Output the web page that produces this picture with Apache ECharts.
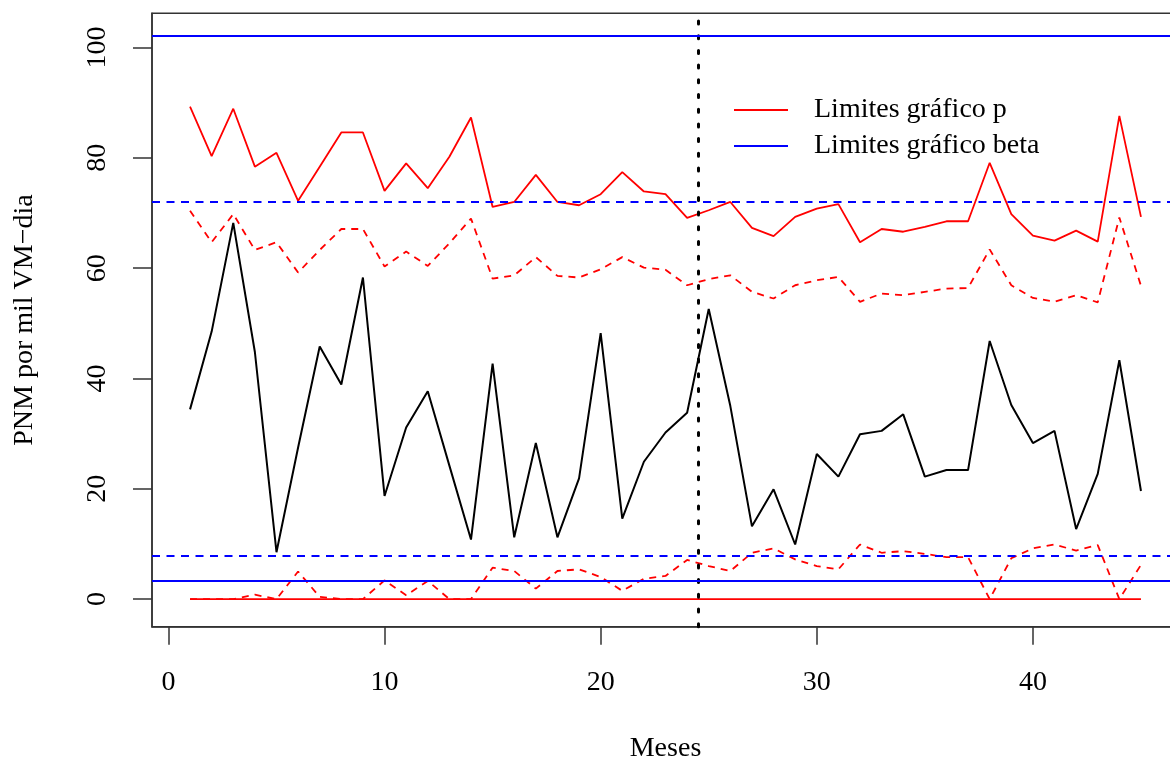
<!DOCTYPE html>
<html><head><meta charset="utf-8">
<script src="https://cdn.jsdelivr.net/npm/echarts@6/dist/echarts.min.js"></script>
<style>html,body{margin:0;padding:0;background:#fff}#c{width:1170px;height:760px}</style>
</head><body><div id="c"></div><script>
const months = [1,2,3,4,5,6,7,8,9,10,11,12,13,14,15,16,17,18,19,20,21,22,23,24,25,26,27,28,29,30,31,32,33,34,35,36,37,38,39,40,41,42,43,44,45];
const observed = [34.4,48.5,68.2,44.8,8.5,27.5,45.8,38.9,58.3,18.7,31.1,37.7,24.2,10.8,42.7,11.2,28.3,11.2,21.9,48.2,14.6,24.9,30.2,33.8,52.6,35.0,13.2,19.9,9.9,26.3,22.2,29.9,30.5,33.5,22.2,23.4,23.4,46.8,35.2,28.3,30.5,12.7,22.7,43.3,19.6];
const uclP = [89.3,80.3,88.9,78.4,80.9,72.2,78.4,84.6,84.6,74.0,79.0,74.5,80.2,87.3,71.1,72.0,76.9,72.0,71.4,73.4,77.4,73.9,73.4,69.1,70.5,72.0,67.3,65.8,69.3,70.8,71.6,64.7,67.1,66.6,67.5,68.5,68.5,79.1,69.8,65.9,65.0,66.8,64.8,87.6,69.3];
const uwlP = [70.4,64.7,69.8,63.3,64.7,59.2,63.3,67.1,67.1,60.3,63.0,60.4,64.5,69.0,58.1,58.7,62.0,58.6,58.3,59.8,62.0,60.1,59.7,56.9,58.0,58.7,55.7,54.5,56.9,57.8,58.4,53.9,55.4,55.1,55.7,56.3,56.4,63.4,56.9,54.6,53.9,55.1,53.8,69.2,56.8];
const lwlP = [0,0,0,0.8,0,5.0,0.4,0,0,3.4,0.7,3.3,0,0,5.7,5.1,1.9,5.1,5.4,4.0,1.5,3.7,4.2,7.1,6.0,5.1,8.4,9.2,7.2,6.0,5.4,9.9,8.4,8.7,8.2,7.6,7.6,0,7.4,9.2,9.9,8.8,9.8,0,6.2];
const lclP = [0,0,0,0,0,0,0,0,0,0,0,0,0,0,0,0,0,0,0,0,0,0,0,0,0,0,0,0,0,0,0,0,0,0,0,0,0,0,0,0,0,0,0,0,0];
const betaLimits = [102.1, 3.26];
const betaWarn = [72.0, 7.8];
const changeMonth = 24.5;
const xTicks = [0,10,20,30,40];
const yTicks = [0,20,40,60,80,100];
const legendNames = ['Limites gráfico p','Limites gráfico beta'];

const pairs = arr => months.map((m,i)=>[m,arr[i]]);
const FONT = 'Liberation Serif';
const RED = '#ff0000', BLUE = '#0000ff';

const chart = echarts.init(document.getElementById('c'), null, {renderer:'canvas'});
const lineSeries = (name, arr, color, type, z, w) => ({
  name, type:'line', data:pairs(arr), symbol:'none', z: z||2,
  itemStyle:{color}, lineStyle:{color, width:w||1.8, type: type||'solid'},
  emphasis:{disabled:true}, animation:false
});
chart.setOption({
  backgroundColor:'#fff',
  animation:false,
  grid:{left:152, top:13.3, width:1027, height:613.4, show:true, borderColor:'#333', borderWidth:1.5, backgroundColor:'transparent', containLabel:false, outerBoundsMode:'none'},
  legend:{
    left:734, top:95, padding:0, orient:'vertical', itemWidth:54, itemHeight:2, itemGap:6, icon:'rect',
    data:legendNames, selectedMode:false,
    textStyle:{fontFamily:FONT, fontSize:28, color:'#000', lineHeight:30, padding:[0,0,0,21]}
  },
  xAxis:{
    type:'value', min:-0.76, max:46.76,
    name:'Meses', nameLocation:'middle', nameGap:108,
    nameTextStyle:{fontFamily:FONT, fontSize:28, color:'#000'},
    axisLine:{show:true, onZero:false, lineStyle:{color:'#333', width:1.5}},
    axisTick:{show:true, length:18, lineStyle:{color:'#333', width:1.5}, customValues:xTicks},
    axisLabel:{fontFamily:FONT, fontSize:28, color:'#000', margin:42, customValues:xTicks},
    splitLine:{show:false}
  },
  yAxis:{
    type:'value', min:-5.0, max:106.2,
    name:'PNM por mil VM\u2212dia', nameLocation:'middle', nameGap:113, nameRotate:90,
    nameTextStyle:{fontFamily:FONT, fontSize:28, color:'#000'},
    axisLine:{show:true, onZero:false, lineStyle:{color:'#333', width:1.5}},
    axisTick:{show:true, length:19, lineStyle:{color:'#333', width:1.5}, customValues:yTicks},
    axisLabel:{fontFamily:FONT, fontSize:28, color:'#000', margin:40, rotate:90, customValues:yTicks},
    splitLine:{show:false}
  },
  series:[
    Object.assign(lineSeries('obs', observed, '#000', 'solid', 3, 2), {
      markLine:{silent:true, symbol:['none','none'], label:{show:false}, animation:false,
        lineStyle:{color:'#000', width:3, type:[3,11.7], cap:'round'},
        data:[{xAxis:changeMonth}]}
    }),
    lineSeries(legendNames[0], uclP, RED),
    lineSeries(legendNames[0], uwlP, RED, [7,6]),
    lineSeries(legendNames[0], lwlP, RED, [7,6]),
    lineSeries(legendNames[0], lclP, RED),
    {
      name:legendNames[1], type:'line', data:[], symbol:'none',
      itemStyle:{color:BLUE}, lineStyle:{color:BLUE, width:1.8},
      markLine:{silent:true, symbol:['none','none'], label:{show:false}, animation:false,
        data:[
          {yAxis:betaLimits[0], lineStyle:{color:BLUE, width:1.8, type:'solid'}},
          {yAxis:betaLimits[1], lineStyle:{color:BLUE, width:1.8, type:'solid'}},
          {yAxis:betaWarn[0], lineStyle:{color:BLUE, width:1.8, type:[8,6.5]}},
          {yAxis:betaWarn[1], lineStyle:{color:BLUE, width:1.8, type:[8,6.5]}}
        ]}
    }
  ]
});
</script></body></html>
